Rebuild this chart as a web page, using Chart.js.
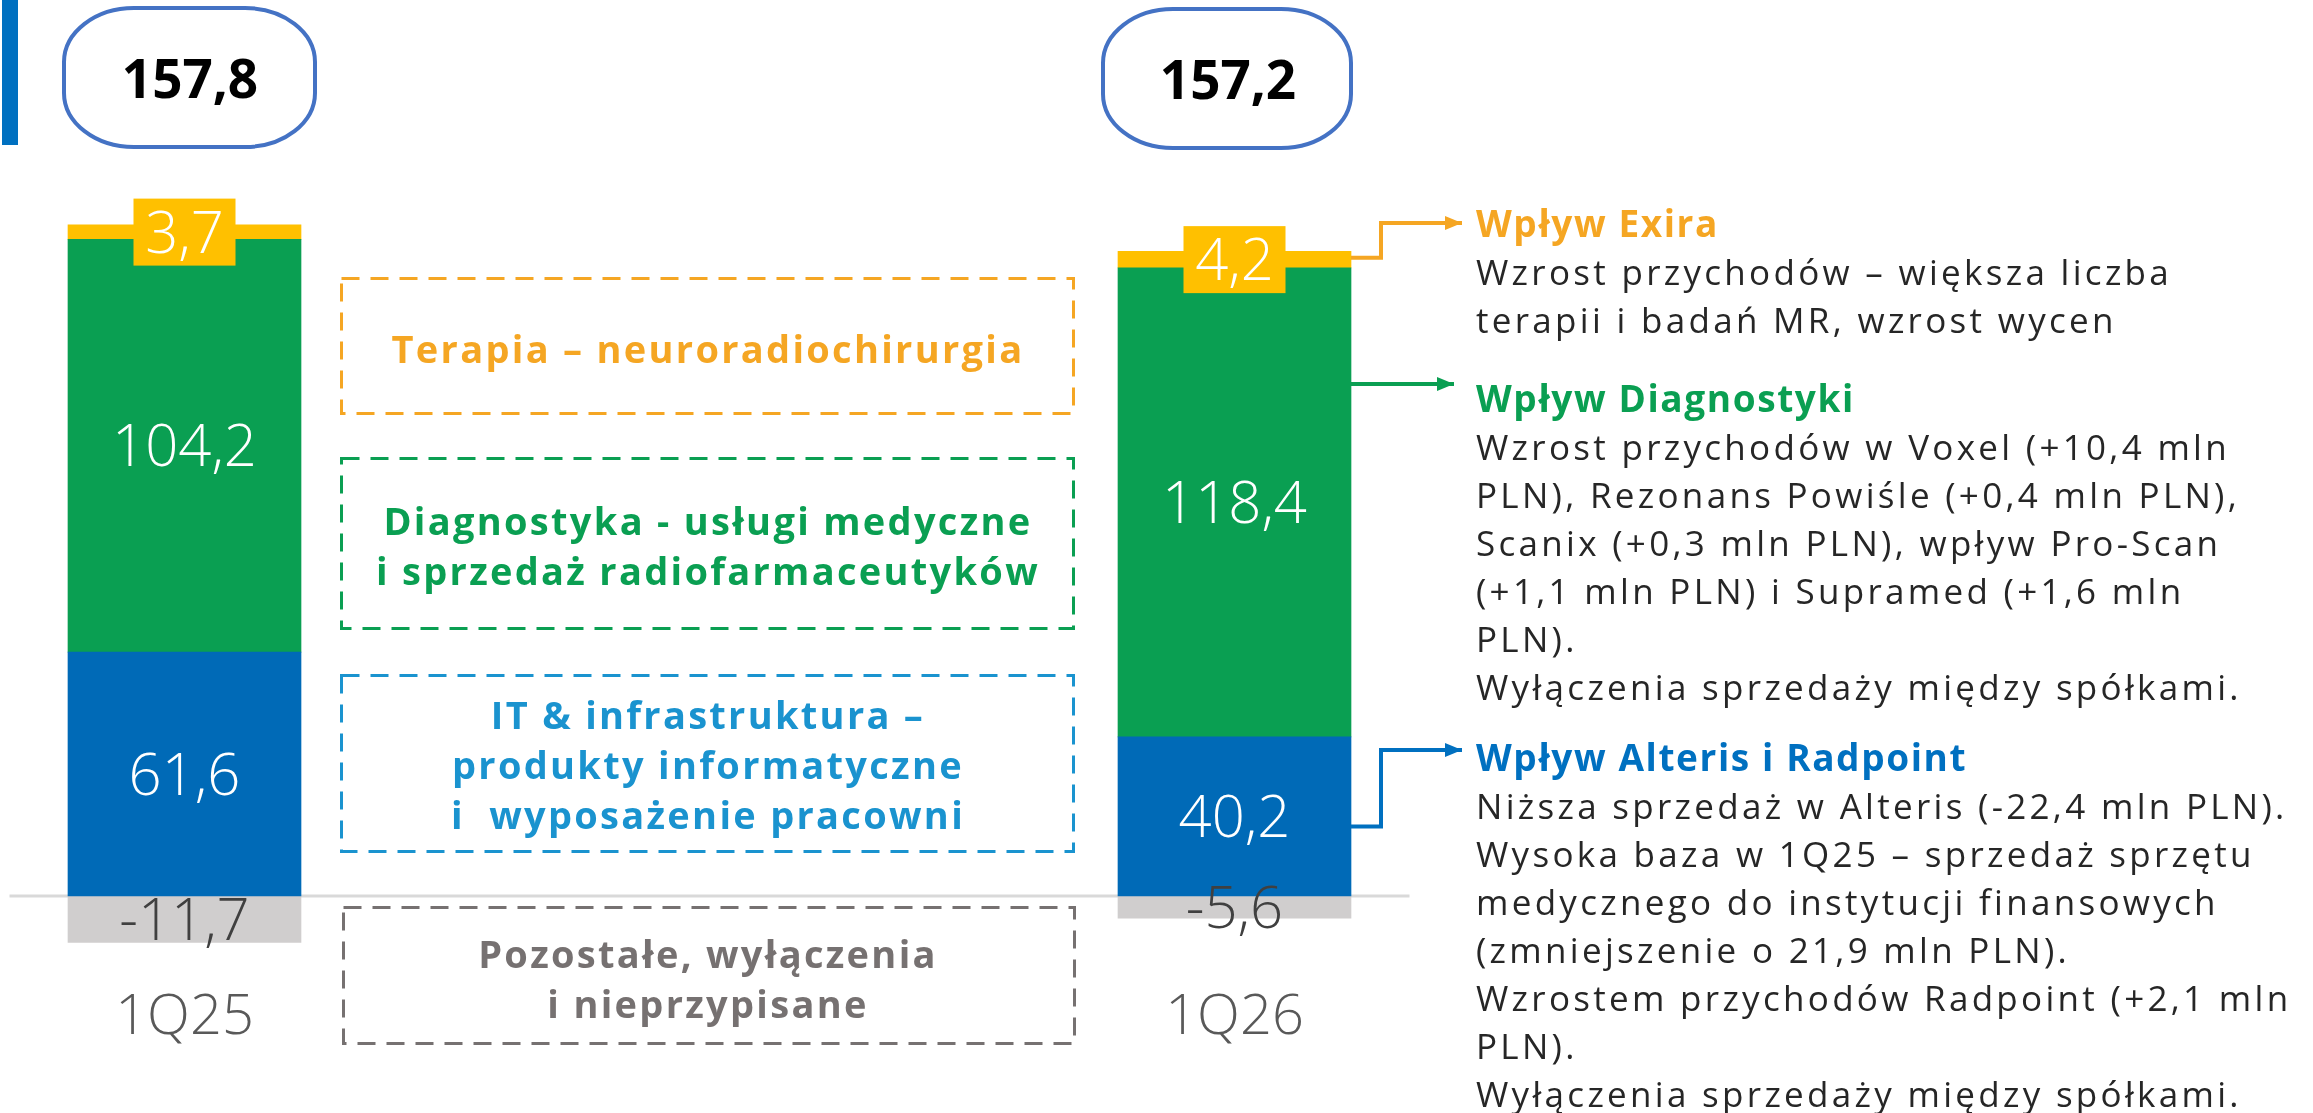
<!DOCTYPE html>
<html>
<head>
<meta charset="utf-8">
<script src="https://cdn.jsdelivr.net/npm/chart.js@4.4.1/dist/chart.umd.min.js"></script>
<style>
  body { margin: 0; background: #fff; font-family: "Open Sans", sans-serif; }
  #page { position: relative; width: 2313px; height: 1113px; overflow: hidden; }
  #chartBox { position: absolute; left: 0; top: 0; width: 2313px; height: 1113px; }
  svg { position: absolute; left: 0; top: 0; }
  .total { position: absolute; width: 260px; text-align: center; font-weight: 700;
           font-size: 53px; line-height: 60px; color: #000; }
  .seg { position: absolute; left: 340px; width: 736px; text-align: center; font-weight: 700;
         font-size: 38px; line-height: 50px; letter-spacing: 2.3px; white-space: pre; }
  .note { position: absolute; left: 1476px; font-size: 35px; line-height: 48px;
          letter-spacing: 3.3px; color: #262626; white-space: pre; }
  .note b { font-size: 37px; letter-spacing: 1.6px; }
</style>
</head>
<body>
<div id="page">
  <div id="chartBox"><canvas id="revenueChart"></canvas></div>

  <svg width="2313" height="1113">
    <rect x="2" y="0" width="16" height="145" fill="#0070C0"/>
    <rect x="64" y="8" width="251" height="139" rx="70" ry="54" fill="none" stroke="#4472C4" stroke-width="4"/>
    <rect x="1103" y="9" width="248" height="139" rx="70" ry="54" fill="none" stroke="#4472C4" stroke-width="4"/>
    <g fill="none" stroke-width="3" stroke-dasharray="18 11">
      <rect x="341.5" y="278.5" width="732" height="135" stroke="#F5A623"/>
      <rect x="341.5" y="458.5" width="732" height="170" stroke="#0A9F52"/>
      <rect x="341.5" y="675.5" width="732" height="176" stroke="#1A93CF"/>
      <rect x="343.5" y="907.5" width="731" height="136" stroke="#767171"/>
    </g>
  </svg>

  <div class="total" id="total0" style="left:60px; top:48px;"></div>
  <div class="total" id="total1" style="left:1098px; top:49px;"></div>

  <div class="seg" style="top:323px; color:#F5A623;">Terapia – neuroradiochirurgia</div>
  <div class="seg" style="top:495px; color:#0A9F52;">Diagnostyka - usługi medyczne
i sprzedaż radiofarmaceutyków</div>
  <div class="seg" style="top:689px; color:#1A93CF;">IT &amp; infrastruktura –
produkty informatyczne
i  wyposażenie pracowni</div>
  <div class="seg" style="top:928px; color:#767171;">Pozostałe, wyłączenia
i nieprzypisane</div>

  <div class="note" style="top:199px;"><b style="color:#F5A623;">Wpływ Exira</b>
Wzrost przychodów – większa liczba
terapii i badań MR, wzrost wycen</div>
  <div class="note" style="top:374px;"><b style="color:#0A9F52;">Wpływ Diagnostyki</b>
Wzrost przychodów w Voxel (+10,4 mln
PLN), Rezonans Powiśle (+0,4 mln PLN),
Scanix (+0,3 mln PLN), wpływ Pro-Scan
(+1,1 mln PLN) i Supramed (+1,6 mln
PLN).
Wyłączenia sprzedaży między spółkami.</div>
  <div class="note" style="top:733px;"><b style="color:#0070C0;">Wpływ Alteris i Radpoint</b>
Niższa sprzedaż w Alteris (-22,4 mln PLN).
Wysoka baza w 1Q25 – sprzedaż sprzętu
medycznego do instytucji finansowych
(zmniejszenie o 21,9 mln PLN).
Wzrostem przychodów Radpoint (+2,1 mln
PLN).
Wyłączenia sprzedaży między spółkami.</div>
</div>

<script>
// revenue by segment, mln PLN
var categories = ["1Q25", "1Q26"];
var itInfra = [61.6, 40.2];
var diagnostyka = [104.2, 118.4];
var terapia = [3.7, 4.2];
var pozostale = [-11.7, -5.6];

var CAP = 0.714; // Open Sans cap height / em

function fmt(v) {
  return v.toFixed(1).replace(".", ",");
}

function points(values) {
  return values.map(function (v, i) {
    return { x: i, y: v };
  });
}

// totals above the bars
categories.forEach(function (c, i) {
  var sum = itInfra[i] + diagnostyka[i] + terapia[i] + pozostale[i];
  document.getElementById("total" + i).textContent = fmt(sum);
});

var baseline = {
  id: "baseline",
  beforeDatasetsDraw: function (chart) {
    var ctx = chart.ctx;
    var y0 = chart.scales.y.getPixelForValue(0);
    ctx.save();
    ctx.strokeStyle = "#D9D9D9";
    ctx.lineWidth = 3;
    ctx.beginPath();
    ctx.moveTo(chart.chartArea.left, y0);
    ctx.lineTo(chart.chartArea.right, y0);
    ctx.stroke();
    ctx.restore();
  },
};

var valueLabels = {
  id: "valueLabels",
  afterDatasetsDraw: function (chart) {
    var ctx = chart.ctx;
    ctx.save();
    ctx.font = '300 58px "Open Sans"';
    ctx.textAlign = "center";
    ctx.textBaseline = "alphabetic";
    chart.data.datasets.forEach(function (ds, i) {
      chart.getDatasetMeta(i).data.forEach(function (bar, j) {
        var cy = (bar.y + bar.base) / 2;
        if (ds.labelBox) {
          ctx.fillStyle = ds.backgroundColor;
          ctx.fillRect(bar.x - 51, cy - 33.5, 102, 67);
        }
        ctx.fillStyle = ds.labelColor;
        ctx.fillText(fmt(ds.data[j].y), bar.x, cy + (58 * CAP) / 2);
      });
    });
    // category names under the bars
    ctx.font = '300 56px "Open Sans"';
    ctx.fillStyle = "#595959";
    categories.forEach(function (c, i) {
      ctx.fillText(c, chart.scales.x.getPixelForValue(i), 1014 + (56 * CAP) / 2);
    });
    ctx.restore();
  },
};

function drawArrow(ctx, pts, color) {
  var end = pts[pts.length - 1];
  ctx.strokeStyle = color;
  ctx.fillStyle = color;
  ctx.lineWidth = 4;
  ctx.beginPath();
  ctx.moveTo(pts[0][0], pts[0][1]);
  for (var k = 1; k < pts.length; k++) ctx.lineTo(pts[k][0], pts[k][1]);
  ctx.lineTo(end[0] - 14, end[1]);
  ctx.stroke();
  ctx.beginPath();
  ctx.moveTo(end[0], end[1]);
  ctx.lineTo(end[0] - 17, end[1] - 7);
  ctx.lineTo(end[0] - 17, end[1] + 7);
  ctx.closePath();
  ctx.fill();
}

// connectors from the 1Q26 bar to the notes on the right
var connectors = {
  id: "connectors",
  afterDatasetsDraw: function (chart) {
    var ctx = chart.ctx;
    var yellow = chart.getDatasetMeta(2).data[1];
    var blue = chart.getDatasetMeta(0).data[1];
    var right = blue.x + blue.width / 2;
    ctx.save();
    ctx.lineJoin = "miter";
    var yc = (yellow.y + yellow.base) / 2 - 2;
    drawArrow(ctx, [[right, yc], [1381, yc], [1381, 223], [1462, 223]], "#F5A623");
    drawArrow(ctx, [[right, 384], [1454, 384]], "#0A9F52");
    var bc = (blue.y + blue.base) / 2 + 10;
    drawArrow(ctx, [[right, bc], [1381, bc], [1381, 750], [1462, 750]], "#0070C0");
    ctx.restore();
  },
};

var ctx = document.getElementById("revenueChart").getContext("2d");
var revenueChart = new Chart(ctx, {
  type: "bar",
  data: {
    datasets: [
      { label: "IT & infrastruktura", data: points(itInfra), backgroundColor: "#006AB7", labelColor: "#FFFFFF" },
      { label: "Diagnostyka", data: points(diagnostyka), backgroundColor: "#0A9F52", labelColor: "#FFFFFF" },
      { label: "Terapia", data: points(terapia), backgroundColor: "#FFC000", labelColor: "#FFFFFF", labelBox: true },
      { label: "Pozostałe", data: points(pozostale), backgroundColor: "#D0CECE", labelColor: "#404040" },
    ],
  },
  options: {
    responsive: true,
    maintainAspectRatio: false,
    devicePixelRatio: 1,
    animation: false,
    barThickness: 233,
    borderWidth: 0,
    layout: { padding: { left: 9.5, right: 903.5, top: 104, bottom: 19 } },
    plugins: { legend: { display: false }, tooltip: { enabled: false } },
    scales: {
      x: { type: "linear", stacked: true, offset: false, min: -1 / 6, max: 7 / 6, display: false },
      y: { stacked: true, min: -50, max: 200, display: false },
    },
  },
  plugins: [baseline, valueLabels, connectors],
});
</script>
</body>
</html>
